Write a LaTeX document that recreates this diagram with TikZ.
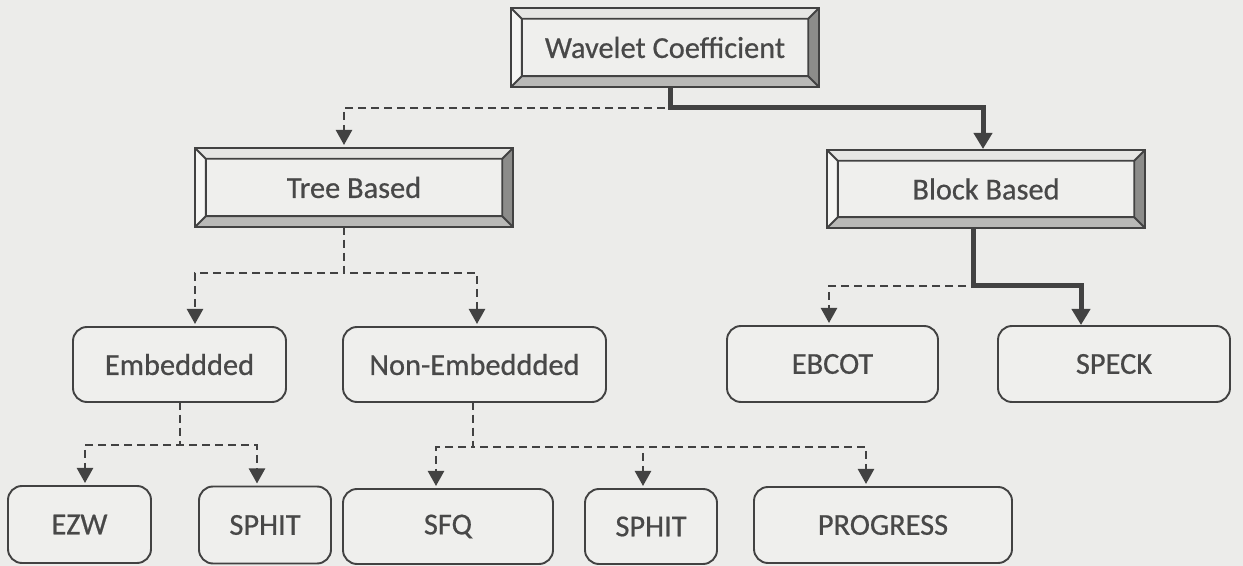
\documentclass[tikz,border=0pt]{standalone}
\usepackage{fontspec}
\setmainfont{Carlito}
\newfontfamily\boxfont[FakeBold=0.6]{Carlito}
\usepackage{tikz}
\usepackage{xcolor}
\usetikzlibrary{calc, arrows.meta}
\definecolor{pagebg}{RGB}{236,236,234}
\definecolor{boxfill}{RGB}{239,239,237}
\definecolor{boxline}{RGB}{66,66,66}
\definecolor{boxtext}{RGB}{72,72,72}
\definecolor{bevtopfill}{RGB}{230,230,228}
\definecolor{bevleftfill}{RGB}{246,246,244}
\definecolor{bevbottomfill}{RGB}{185,185,183}
\definecolor{bevrightfill}{RGB}{140,140,138}

\newcommand{\bevw}{5.4pt}
% bevelled frame round a node
\newcommand{\bevelframe}[1]{%
  \coordinate (#1-inw) at ([shift={(\bevw,-\bevw)}]#1.north west);
  \coordinate (#1-ine) at ([shift={(-\bevw,-\bevw)}]#1.north east);
  \coordinate (#1-ise) at ([shift={(-\bevw,\bevw)}]#1.south east);
  \coordinate (#1-isw) at ([shift={(\bevw,\bevw)}]#1.south west);
  \fill[bevtopfill] (#1.north west) -- (#1.north east) -- (#1-ine) -- (#1-inw) -- cycle;
  \fill[bevleftfill] (#1.north west) -- (#1-inw) -- (#1-isw) -- (#1.south west) -- cycle;
  \fill[bevbottomfill] (#1.south west) -- (#1-isw) -- (#1-ise) -- (#1.south east) -- cycle;
  \fill[bevrightfill] (#1.north east) -- (#1.south east) -- (#1-ise) -- (#1-ine) -- cycle;
  \draw[boxline, line width=0.95pt, line join=miter]
    (#1.north west) rectangle (#1.south east)
    (#1-inw) rectangle (#1-ise)
    (#1.north west) -- (#1-inw) (#1.north east) -- (#1-ine)
    (#1.south east) -- (#1-ise) (#1.south west) -- (#1-isw);
}

\begin{document}
\begin{tikzpicture}[
    x=0.5pt, y=-0.5pt,
    bevbox/.style={fill=boxfill, inner sep=0pt, outer sep=0pt, text=boxtext,
      font=\boxfont\fontsize{15.2}{18}\selectfont, minimum height=39.5pt},
    roundbox/.style={draw=boxline, line width=0.95pt, fill=boxfill, rounded corners=7pt,
      inner sep=0pt, outer sep=0pt, text=boxtext, font=\boxfont\fontsize{15.2}{18}\selectfont,
      minimum height=37.5pt},
    dashconn/.style={draw=boxline, line width=1.2pt, dash pattern=on 4pt off 2.5pt,
      -{Triangle[width=8pt,length=7.5pt]}, shorten >=1.5pt},
    boldconn/.style={draw=boxline, line width=2.5pt,
      -{Triangle[width=9pt,length=8pt]}, shorten >=0.5pt}
]
\fill[pagebg] (0,0) rectangle (1243,566);
\useasboundingbox (0,0) rectangle (1243,566);

% ---------- Top ----------
\node[bevbox, minimum width=154pt] (wave) at (665,47.5) {Wavelet Coefficient};
\bevelframe{wave}

% ---------- Second level ----------
\node[bevbox, minimum width=159pt] (tree) at (354,187.5) {Tree Based};
\bevelframe{tree}
\node[bevbox, minimum width=159pt, minimum height=39pt] (block) at (986,189) {Block Based};
\bevelframe{block}

% ---------- Third level ----------
\node[roundbox, minimum width=106.5pt] (emb) at (179.5,364.5) {Embeddded};
\node[roundbox, minimum width=131.5pt] (nonemb) at (474.5,364.5) {Non-Embeddded};
\node[roundbox, minimum width=105.5pt, minimum height=38pt] (ebcot) at (832.5,364) {EBCOT};
\node[roundbox, minimum width=116pt, minimum height=38pt] (speck) at (1114,364) {SPECK};

% ---------- Bottom level ----------
\node[roundbox, minimum width=71.5pt, minimum height=38.5pt] (ezw) at (79.5,524.5) {EZW};
\node[roundbox, minimum width=66pt, minimum height=38.5pt] (sphita) at (265,525) {SPHIT};
\node[roundbox, minimum width=105pt] (sfq) at (448,526.5) {SFQ};
\node[roundbox, minimum width=66pt] (sphitb) at (651,526.5) {SPHIT};
\node[roundbox, minimum width=129pt, minimum height=38pt] (progress) at (883,525) {PROGRESS};

% ---------- Connectors ----------
\draw[dashconn] ($(wave.south)+(5,0)$) -- ++(0,21) -| ($(tree.north)+(-10,0)$);
\draw[boldconn] ($(wave.south)+(5,0)$) -- ++(0,21) -| ($(block.north)+(-3,0)$);

\draw[dashconn] ($(tree.south)+(-10,0)$) -- ++(0,46) -| ($(emb.north)+(15.5,0)$);
\draw[dashconn] ($(tree.south)+(-10,0)$) -- ++(0,46) -| ($(nonemb.north)+(2.5,0)$);

\draw[dashconn] ($(block.south)+(-13,0)$) -- ++(0,58) -| ($(ebcot.north)+(-3.5,0)$);
\draw[boldconn] ($(block.south)+(-13,0)$) -- ++(0,58) -| ($(speck.north)+(-33,0)$);

\draw[dashconn] ($(emb.south)+(0.5,0)$) -- ++(0,43) -| ($(ezw.north)+(5.5,0)$);
\draw[dashconn] ($(emb.south)+(0.5,0)$) -- ++(0,43) -| ($(sphita.north)+(-8,0)$);

\draw[dashconn] ($(nonemb.south)+(-1.5,0)$) -- ++(0,45) -| ($(sfq.north)+(-12,0)$);
\draw[dashconn] ($(nonemb.south)+(-1.5,0)$) -- ++(0,45) -| ($(sphitb.north)+(-8,0)$);
\draw[dashconn] ($(nonemb.south)+(-1.5,0)$) -- ++(0,45) -| ($(progress.north)+(-17,0)$);

\end{tikzpicture}
\end{document}
